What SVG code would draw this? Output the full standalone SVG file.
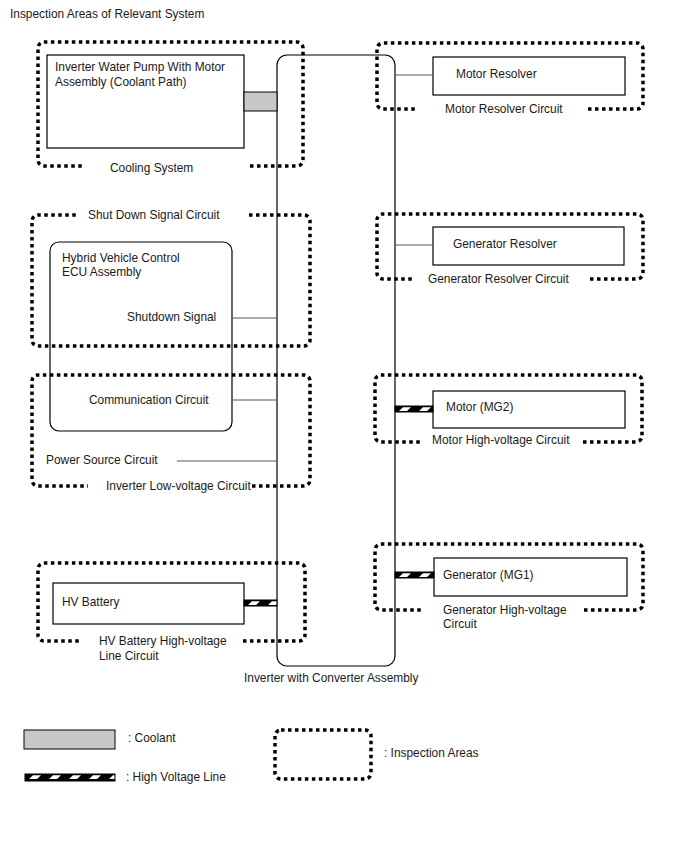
<svg xmlns="http://www.w3.org/2000/svg" width="688" height="852" viewBox="0 0 688 852">
<style>
text{font-family:"Liberation Sans",Arial,sans-serif;font-size:11.9px;fill:#1a1a1a}
.box{fill:#fff;stroke:#000;stroke-width:1.2}
.rbox{fill:none;stroke:#000;stroke-width:1.2}
.dot{fill:none;stroke:#000;stroke-width:3.5;stroke-dasharray:3.5 3.5;stroke-linejoin:round}
.wire{stroke:#555;stroke-width:1;fill:none}
.cool{fill:#c8c8c8;stroke:#000;stroke-width:1}
.hv{fill:url(#hvp);stroke:#000;stroke-width:1}
</style>
<defs>
<pattern id="hvp" patternUnits="userSpaceOnUse" width="20" height="6">
<rect width="20" height="6" fill="#000"/>
<polygon points="4,5 8,1.3 16,1.3 12,5" fill="#fff"/>
</pattern>
</defs>
<rect width="688" height="852" fill="#fff"/>
<text x="10" y="18">Inspection Areas of Relevant System</text>

<g id="inverter">
<rect class="rbox" x="277" y="55" width="118" height="611" rx="10"/>
<text x="244" y="682">Inverter with Converter Assembly</text>
</g>

<g id="cooling-system">
<path class="dot" d="M250,166 H297 A6,6 0 0 0 303,160 V48 A6,6 0 0 0 297,42 H44 A6,6 0 0 0 38,48 V160 A6,6 0 0 0 44,166 H82"/>
<text x="110" y="172">Cooling System</text>
</g>
<g id="water-pump">
<rect class="box" x="47" y="55" width="197" height="93"/>
<text x="55" y="71">Inverter Water Pump With Motor</text>
<text x="55" y="86">Assembly (Coolant Path)</text>
</g>

<g id="motor-resolver-circuit">
<path class="dot" d="M588,109 H637 A6,6 0 0 0 643,103 V49 A6,6 0 0 0 637,43 H383 A6,6 0 0 0 377,49 V103 A6,6 0 0 0 383,109 H415"/>
<text x="445" y="113">Motor Resolver Circuit</text>
</g>
<g id="motor-resolver">
<rect class="box" x="433" y="57" width="192" height="38"/>
<text x="456" y="78">Motor Resolver</text>
</g>

<g id="generator-resolver-circuit">
<path class="dot" d="M590,279 H637 A6,6 0 0 0 643,273 V220 A6,6 0 0 0 637,214 H383 A6,6 0 0 0 377,220 V273 A6,6 0 0 0 383,279 H413"/>
<text x="428" y="283">Generator Resolver Circuit</text>
</g>
<g id="generator-resolver">
<rect class="box" x="433" y="227" width="191" height="38"/>
<text x="453" y="248">Generator Resolver</text>
</g>

<g id="shutdown-signal-circuit">
<path class="dot" d="M249,215 H304 A6,6 0 0 1 310,221 V340 A6,6 0 0 1 304,346 H38 A6,6 0 0 1 32,340 V221 A6,6 0 0 1 38,215 H78"/>
<text x="88" y="219">Shut Down Signal Circuit</text>
</g>

<g id="inverter-low-voltage-circuit">
<path class="dot" d="M252,486 H304 A6,6 0 0 0 310,480 V381 A6,6 0 0 0 304,375 H38 A6,6 0 0 0 32,381 V480 A6,6 0 0 0 38,486 H88"/>
<text x="106" y="490">Inverter Low-voltage Circuit</text>
<text x="46" y="464">Power Source Circuit</text>
</g>

<g id="hv-ecu">
<rect class="rbox" x="50" y="242" width="182" height="189" rx="9"/>
<text x="62" y="262">Hybrid Vehicle Control</text>
<text x="62" y="276">ECU Assembly</text>
<text x="127" y="321">Shutdown Signal</text>
<text x="89" y="404">Communication Circuit</text>
</g>

<g id="motor-hv-circuit">
<path class="dot" d="M583,442 H636 A6,6 0 0 0 642,436 V381 A6,6 0 0 0 636,375 H381 A6,6 0 0 0 375,381 V436 A6,6 0 0 0 381,442 H423"/>
<text x="432" y="444">Motor High-voltage Circuit</text>
</g>
<g id="motor-mg2">
<rect class="box" x="433" y="391" width="192" height="37"/>
<text x="446" y="411">Motor (MG2)</text>
</g>

<g id="generator-hv-circuit">
<path class="dot" d="M584,610 H637 A6,6 0 0 0 643,604 V550 A6,6 0 0 0 637,544 H381 A6,6 0 0 0 375,550 V604 A6,6 0 0 0 381,610 H424"/>
<text x="443" y="614">Generator High-voltage</text>
<text x="443" y="628">Circuit</text>
</g>
<g id="generator-mg1">
<rect class="box" x="434" y="558" width="193" height="38"/>
<text x="443" y="579">Generator (MG1)</text>
</g>

<g id="hv-battery-circuit">
<path class="dot" d="M243,641 H299 A6,6 0 0 0 305,635 V569 A6,6 0 0 0 299,563 H44 A6,6 0 0 0 38,569 V635 A6,6 0 0 0 44,641 H82"/>
<text x="99" y="645">HV Battery High-voltage</text>
<text x="99" y="660">Line Circuit</text>
</g>
<g id="hv-battery">
<rect class="box" x="53" y="583" width="191" height="41"/>
<text x="62" y="606">HV Battery</text>
</g>

<g id="connectors">
<rect class="cool" x="244" y="92" width="33" height="19"/>
<line class="wire" x1="395" y1="75" x2="433" y2="75"/>
<line class="wire" x1="395" y1="245" x2="433" y2="245"/>
<line class="wire" x1="232" y1="318" x2="277" y2="318"/>
<line class="wire" x1="232" y1="400" x2="277" y2="400"/>
<line class="wire" x1="177" y1="461" x2="277" y2="461"/>
<g transform="translate(395,406)"><rect class="hv" width="38" height="6"/></g>
<g transform="translate(395,572)"><rect class="hv" width="39" height="6"/></g>
<g transform="translate(244,600)"><rect class="hv" width="33" height="6"/></g>
</g>

<g id="legend">
<rect class="cool" x="24" y="730" width="91" height="19"/>
<text x="128" y="742">: Coolant</text>
<g transform="translate(25,774)"><rect class="hv" width="90" height="7"/></g>
<text x="126" y="781">: High Voltage Line</text>
<rect class="dot" x="275" y="730" width="96" height="49" rx="6"/>
<text x="384" y="757">: Inspection Areas</text>
</g>
</svg>
